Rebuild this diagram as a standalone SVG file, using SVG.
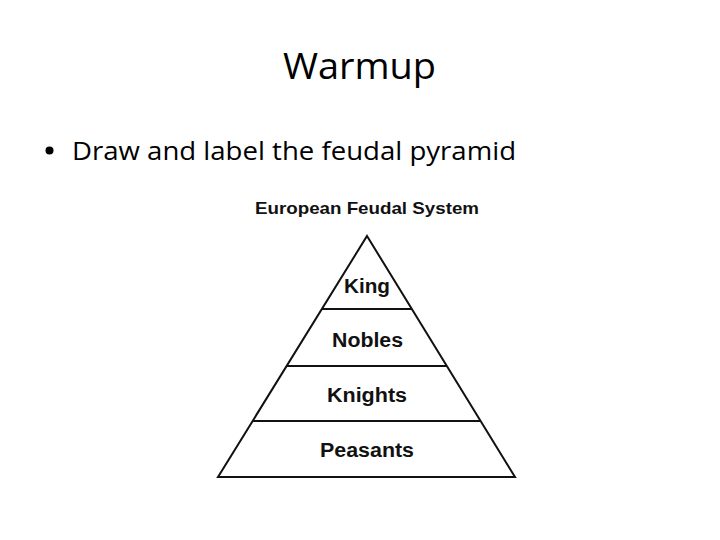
<svg xmlns="http://www.w3.org/2000/svg" width="720" height="540" viewBox="0 0 720 540">
  <style>
    .slide { font-family: "Open Sans", "Liberation Sans", sans-serif; fill: #000; }
    .fig { font-family: "Liberation Sans", Arial, sans-serif; font-weight: bold; fill: #111; text-anchor: middle; }
    .edge { stroke: #111; stroke-width: 2; fill: none; stroke-linejoin: miter; }
  </style>
  <rect x="0" y="0" width="720" height="540" fill="#fff"/>
  <g id="title">
    <text class="slide" x="283" y="79" font-size="36" textLength="153" lengthAdjust="spacingAndGlyphs">Warmup</text>
  </g>
  <g id="bullet">
    <circle cx="49.5" cy="150.5" r="4" fill="#000"/>
    <text class="slide" x="72" y="160" font-size="25" textLength="444" lengthAdjust="spacingAndGlyphs">Draw and label the feudal pyramid</text>
  </g>
  <g id="figure-title">
    <text class="fig" x="367" y="214" font-size="17" textLength="224" lengthAdjust="spacingAndGlyphs">European Feudal System</text>
  </g>
  <g id="connectors">
    <polygon class="edge" points="367,236 515,477 218,477"/>
    <line class="edge" x1="322" y1="309" x2="412" y2="309"/>
    <line class="edge" x1="287" y1="366" x2="447" y2="366"/>
    <line class="edge" x1="253" y1="421" x2="481" y2="421"/>
  </g>
  <g id="king">
    <text class="fig" x="367" y="293" font-size="20" textLength="46" lengthAdjust="spacingAndGlyphs">King</text>
  </g>
  <g id="nobles">
    <text class="fig" x="367.5" y="347" font-size="20" textLength="71" lengthAdjust="spacingAndGlyphs">Nobles</text>
  </g>
  <g id="knights">
    <text class="fig" x="367" y="402" font-size="20" textLength="80" lengthAdjust="spacingAndGlyphs">Knights</text>
  </g>
  <g id="peasants">
    <text class="fig" x="367" y="457" font-size="20" textLength="94" lengthAdjust="spacingAndGlyphs">Peasants</text>
  </g>
</svg>
